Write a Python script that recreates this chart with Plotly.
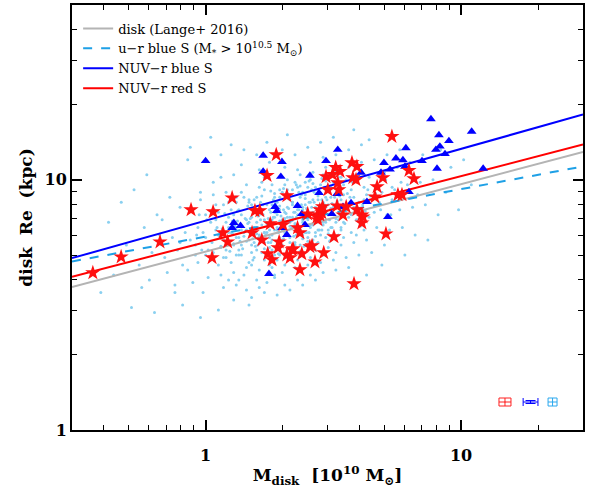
import numpy as np
import plotly.graph_objects as go

# ---- data ----
# fitted size-mass relations: log Re = a + b * log M
fit_names = ["disk (Lange+ 2016)",
             "u\u2212r blue S (M<sub>*</sub> > 10<sup>10.5</sup> M<sub>\u2299</sub>)",
             "NUV\u2212r blue S",
             "NUV\u2212r red S"]
fit_a = [0.713, 0.773, 0.837, 0.751]
fit_b = [0.270, 0.190, 0.287, 0.264]

# NUV-r red S (stars)
star_mass = [0.362, 0.467, 0.663, 0.877, 1.07, 1.06, 1.27, 1.17, 1.22, 1.52,
             1.56, 1.63, 1.66, 1.74, 1.89, 1.79, 1.94, 1.92, 2.01, 2.08,
             1.75, 1.82, 2.08, 2.18, 2.14, 2.20, 2.34, 2.38, 2.56, 2.61,
             2.68, 2.90, 3.18, 2.29, 2.34, 2.51, 2.73, 2.80, 2.75, 2.85,
             2.80, 2.87, 3.27, 3.45, 3.01, 2.96, 3.14, 3.23, 3.36, 3.29,
             3.32, 3.74, 3.91, 3.77, 3.88, 3.55, 3.91, 4.09, 4.13, 4.09,
             4.60, 4.69, 4.94, 5.36, 5.66, 5.87, 5.08, 3.81, 6.25, 6.54]
star_re = [4.25, 4.92, 5.65, 7.59, 7.45, 4.88, 8.47, 6.14, 5.65, 6.14,
           7.52, 7.52, 5.75, 10.4, 12.6, 6.67, 5.65, 5.35, 6.61, 8.63,
           5.06, 4.79, 5.01, 5.25, 4.88, 5.30, 4.37, 5.06, 5.40, 5.45,
           4.70, 5.11, 5.92, 6.43, 6.14, 7.31, 7.11, 7.24, 6.92, 7.38,
           7.59, 7.80, 7.87, 7.24, 9.12, 10.3, 10.5, 11.2, 10.8, 9.73,
           9.12, 11.7, 11.3, 10.2, 10.0, 7.80, 7.59, 7.24, 7.11, 6.73,
           8.55, 9.38, 10.2, 14.9, 8.71, 8.71, 6.08, 3.84, 10.9, 10.1]

# NUV-r blue S (triangles)
tri_mass = [1.00, 1.29, 1.27, 1.37, 1.68, 1.99, 1.68, 1.97, 3.29, 2.96,
            2.56, 4.06, 4.99, 5.56, 4.86, 5.27, 2.78, 3.27, 2.29, 1.87,
            1.90, 2.38, 3.12, 3.45, 3.71, 4.28, 5.17, 2.45, 1.99, 2.08,
            1.77, 7.62, 8.19, 11.0, 8.96, 8.26, 7.97, 6.08, 5.92, 7.03,
            8.65, 6.03, 8.05, 12.2, 6.25]
tri_re = [11.9, 6.73, 6.43, 6.55, 12.5, 11.8, 10.8, 10.3, 13.2, 11.9,
          10.4, 10.7, 11.7, 12.2, 10.7, 11.0, 8.87, 8.79, 7.87, 7.80,
          7.52, 7.31, 7.31, 7.80, 8.09, 8.17, 7.11, 6.61, 6.43, 6.03,
          4.21, 17.5, 15.1, 15.6, 14.3, 13.6, 13.2, 13.4, 12.0, 11.9,
          12.7, 11.3, 11.1, 11.1, 8.95]

# full disk sample (small dots): (log10 M, log10 Re)
cloud_log = [
    (-0.41, 0.55), (-0.38, 0.83), (-0.36, 0.62), (-0.33, 0.91),
    (-0.31, 0.74), (-0.29, 0.49), (-0.28, 0.96),
    (-0.26, 0.66), (-0.24, 0.81), (-0.25, 0.57), (-0.23, 1.02),
    (-0.21, 0.71), (-0.19, 0.86), (-0.22, 0.60), (-0.18, 0.78), (-0.20, 0.47),
    (-0.16, 0.69), (-0.14, 0.93), (-0.15, 0.63), (-0.13, 0.77), (-0.17, 0.84), (-0.12, 0.55),
    (-0.11, 0.72), (-0.09, 0.66), (-0.10, 0.89), (-0.08, 0.79), (-0.12, 0.58), (-0.07, 1.08),
    (-0.10, 0.75), (-0.09, 0.50),
    (-0.06, 0.76), (-0.04, 0.70), (-0.05, 0.88), (-0.03, 0.81), (-0.07, 0.64), (-0.02, 0.95),
    (-0.05, 0.59), (-0.04, 0.74), (-0.06, 1.13), (-0.03, 0.67),
    (-0.01, 0.79), (0.01, 0.72), (0.00, 0.86), (0.02, 0.68), (-0.02, 0.92), (0.01, 0.61),
    (0.00, 0.77), (0.02, 0.83), (-0.01, 0.55), (0.03, 0.99), (0.00, 0.70), (-0.02, 0.45),
    (0.02, 1.17),
    (0.04, 0.80), (0.06, 0.73), (0.05, 0.87), (0.07, 0.69), (0.03, 0.94), (0.06, 0.62),
    (0.05, 0.78), (0.04, 0.84), (0.07, 0.57), (0.06, 1.01), (0.03, 0.71), (0.05, 0.66),
    (0.04, 0.90), (0.07, 0.76), (0.05, 0.48), (0.06, 1.10),
    (0.09, 0.81), (0.11, 0.74), (0.10, 0.88), (0.12, 0.70), (0.08, 0.95), (0.11, 0.63),
    (0.10, 0.79), (0.09, 0.85), (0.12, 0.58), (0.11, 1.02), (0.08, 0.72), (0.10, 0.67),
    (0.09, 0.91), (0.12, 0.77), (0.11, 0.52), (0.10, 1.14), (0.08, 0.83), (0.12, 0.93),
    (0.09, 0.60), (0.11, 0.86),
    (0.13, 0.77), (0.16, 0.84), (0.14, 0.70), (0.17, 0.91), (0.15, 0.62), (0.12, 0.81),
    (0.16, 0.98), (0.14, 0.74), (0.17, 0.67), (0.13, 0.88), (0.15, 0.79), (0.16, 0.56),
    (0.14, 1.06), (0.17, 0.83), (0.13, 0.72), (0.15, 0.93), (0.16, 0.65), (0.14, 0.86),
    (0.17, 0.76), (0.13, 0.60), (0.15, 1.12), (0.16, 0.80), (0.14, 0.95), (0.17, 0.50),
    (0.18, 0.85), (0.21, 0.78), (0.19, 0.92), (0.22, 0.71), (0.20, 0.83), (0.18, 0.66),
    (0.21, 0.97), (0.19, 0.75), (0.22, 0.88), (0.20, 0.60), (0.18, 0.80), (0.21, 1.04),
    (0.19, 0.69), (0.22, 0.82), (0.20, 0.93), (0.18, 0.74), (0.21, 0.57), (0.19, 0.87),
    (0.22, 0.77), (0.20, 1.10), (0.18, 0.90), (0.21, 0.64), (0.19, 0.81), (0.22, 0.99),
    (0.20, 0.72), (0.18, 0.53), (0.21, 0.86), (0.23, 0.79),
    (0.23, 0.84), (0.26, 0.76), (0.24, 0.90), (0.27, 0.70), (0.25, 0.82), (0.23, 0.96),
    (0.26, 0.65), (0.24, 0.79), (0.27, 0.87), (0.25, 0.73), (0.23, 1.01), (0.26, 0.84),
    (0.24, 0.59), (0.27, 0.93), (0.25, 0.77), (0.23, 0.68), (0.26, 0.90), (0.24, 0.83),
    (0.27, 0.62), (0.25, 1.07), (0.23, 0.75), (0.26, 0.98), (0.24, 0.71), (0.27, 0.80),
    (0.25, 0.88), (0.23, 0.55), (0.26, 0.72), (0.24, 1.15), (0.27, 0.85), (0.25, 0.66),
    (0.28, 0.86), (0.31, 0.79), (0.29, 0.93), (0.32, 0.72), (0.30, 0.84), (0.28, 0.68),
    (0.31, 0.98), (0.29, 0.77), (0.32, 0.89), (0.30, 0.63), (0.28, 0.81), (0.31, 1.05),
    (0.29, 0.70), (0.32, 0.85), (0.30, 0.95), (0.28, 0.75), (0.31, 0.58), (0.29, 0.88),
    (0.32, 0.78), (0.30, 1.12), (0.28, 0.91), (0.31, 0.66), (0.29, 0.83), (0.32, 1.00),
    (0.30, 0.74), (0.28, 0.54), (0.31, 0.87), (0.29, 0.96), (0.32, 0.69), (0.30, 0.80),
    (0.33, 0.92), (0.27, 0.61),
    (0.33, 0.85), (0.36, 0.78), (0.34, 0.91), (0.37, 0.74), (0.35, 0.87), (0.33, 0.69),
    (0.36, 0.97), (0.34, 0.81), (0.37, 0.93), (0.35, 0.65), (0.33, 0.83), (0.36, 1.04),
    (0.34, 0.72), (0.37, 0.86), (0.35, 0.99), (0.33, 0.77), (0.36, 0.60), (0.34, 0.90),
    (0.37, 0.80), (0.35, 1.10), (0.33, 0.94), (0.36, 0.68), (0.34, 0.84), (0.37, 1.02),
    (0.35, 0.75), (0.33, 0.56), (0.36, 0.88), (0.34, 0.96), (0.37, 0.70), (0.35, 0.82),
    (0.38, 0.89), (0.32, 1.18),
    (0.38, 0.88), (0.41, 0.81), (0.39, 0.94), (0.42, 0.76), (0.40, 0.86), (0.38, 0.71),
    (0.41, 1.00), (0.39, 0.79), (0.42, 0.92), (0.40, 0.66), (0.38, 0.84), (0.41, 1.07),
    (0.39, 0.74), (0.42, 0.87), (0.40, 0.97), (0.38, 0.78), (0.41, 0.62), (0.39, 0.90),
    (0.42, 0.82), (0.40, 1.13), (0.38, 0.95), (0.41, 0.69), (0.39, 0.85), (0.42, 1.03),
    (0.40, 0.77), (0.38, 0.58), (0.41, 0.91), (0.39, 0.99), (0.42, 0.73), (0.43, 0.85),
    (0.43, 0.89), (0.46, 0.82), (0.44, 0.96), (0.47, 0.77), (0.45, 0.88), (0.43, 0.72),
    (0.46, 1.02), (0.44, 0.80), (0.47, 0.93), (0.45, 0.67), (0.43, 0.85), (0.46, 1.09),
    (0.44, 0.75), (0.47, 0.89), (0.45, 0.98), (0.43, 0.79), (0.46, 0.63), (0.44, 0.92),
    (0.47, 0.83), (0.45, 1.15), (0.43, 0.97), (0.46, 0.70), (0.44, 0.87), (0.47, 1.05),
    (0.45, 0.78), (0.43, 0.60), (0.46, 0.91), (0.48, 0.86),
    (0.48, 0.90), (0.51, 0.83), (0.49, 0.97), (0.52, 0.78), (0.50, 0.89), (0.48, 0.73),
    (0.51, 1.03), (0.49, 0.81), (0.52, 0.94), (0.50, 0.68), (0.48, 0.86), (0.51, 1.10),
    (0.49, 0.76), (0.52, 0.90), (0.50, 0.99), (0.48, 0.80), (0.51, 0.64), (0.49, 0.93),
    (0.52, 0.84), (0.50, 1.17), (0.48, 0.96), (0.51, 0.71), (0.49, 0.88), (0.53, 1.01),
    (0.53, 0.92), (0.56, 0.85), (0.54, 0.98), (0.57, 0.79), (0.55, 0.90), (0.53, 0.74),
    (0.56, 1.05), (0.54, 0.83), (0.57, 0.96), (0.55, 0.69), (0.53, 0.88), (0.56, 1.12),
    (0.54, 0.77), (0.57, 0.91), (0.55, 1.00), (0.53, 0.81), (0.56, 0.65), (0.54, 0.94),
    (0.57, 0.86), (0.58, 1.20),
    (0.58, 0.93), (0.61, 0.86), (0.59, 1.00), (0.62, 0.80), (0.60, 0.91), (0.58, 0.75),
    (0.61, 1.07), (0.59, 0.84), (0.62, 0.97), (0.60, 0.70), (0.58, 0.89), (0.61, 1.14),
    (0.59, 0.78), (0.62, 0.92), (0.60, 1.02), (0.63, 0.62),
    (0.63, 0.94), (0.66, 0.87), (0.64, 1.01), (0.67, 0.81), (0.65, 0.92), (0.63, 0.76),
    (0.66, 1.08), (0.64, 0.85), (0.67, 0.98), (0.65, 0.71), (0.68, 0.90), (0.64, 1.16),
    (0.69, 0.95), (0.71, 0.86), (0.70, 1.03), (0.72, 0.80), (0.68, 0.91), (0.71, 1.10),
    (0.70, 0.74), (0.73, 0.97), (0.69, 0.66),
    (0.74, 0.96), (0.76, 0.88), (0.75, 1.05), (0.77, 0.81), (0.73, 0.92), (0.76, 1.12),
    (0.78, 0.70),
    (0.79, 0.98), (0.81, 0.89), (0.80, 1.07), (0.82, 0.78), (0.83, 0.94),
    (0.84, 0.99), (0.86, 0.90), (0.85, 1.10), (0.87, 0.76),
    (0.89, 1.00), (0.91, 0.86), (0.92, 1.12),
    (0.94, 0.95), (0.96, 1.05), (0.99, 0.88), (1.01, 1.08), (1.04, 0.98),
    # dense core
    (0.065, 0.805), (0.085, 0.745), (0.075, 0.865), (0.095, 0.715), (0.055, 0.775),
    (0.105, 0.835), (0.08, 0.69), (0.07, 0.90), (0.09, 0.79), (0.06, 0.735),
    (0.115, 0.815), (0.135, 0.755), (0.125, 0.875), (0.145, 0.725), (0.105, 0.785),
    (0.155, 0.845), (0.13, 0.70), (0.12, 0.91), (0.14, 0.80), (0.11, 0.745),
    (0.15, 0.775), (0.125, 0.835),
    (0.165, 0.825), (0.185, 0.765), (0.175, 0.885), (0.195, 0.735), (0.155, 0.795),
    (0.205, 0.855), (0.18, 0.71), (0.17, 0.92), (0.19, 0.81), (0.16, 0.755),
    (0.20, 0.785), (0.175, 0.845), (0.185, 0.68), (0.165, 0.895),
    (0.215, 0.84), (0.235, 0.78), (0.225, 0.90), (0.245, 0.75), (0.205, 0.81),
    (0.255, 0.87), (0.23, 0.725), (0.22, 0.935), (0.24, 0.825), (0.21, 0.77),
    (0.25, 0.80), (0.225, 0.86), (0.235, 0.695), (0.215, 0.91), (0.245, 0.845),
    (0.205, 0.74), (0.255, 0.955), (0.23, 0.79),
    (0.265, 0.85), (0.285, 0.79), (0.275, 0.91), (0.295, 0.76), (0.255, 0.82),
    (0.305, 0.88), (0.28, 0.735), (0.27, 0.945), (0.29, 0.835), (0.26, 0.78),
    (0.30, 0.81), (0.275, 0.87), (0.285, 0.705), (0.265, 0.92), (0.295, 0.855),
    (0.255, 0.75), (0.305, 0.965), (0.28, 0.80), (0.27, 0.685), (0.29, 0.895),
    (0.315, 0.865), (0.335, 0.805), (0.325, 0.925), (0.345, 0.775), (0.305, 0.835),
    (0.355, 0.895), (0.33, 0.75), (0.32, 0.96), (0.34, 0.85), (0.31, 0.795),
    (0.35, 0.825), (0.325, 0.885), (0.335, 0.72), (0.315, 0.935), (0.345, 0.87),
    (0.305, 0.765), (0.355, 0.98), (0.33, 0.815), (0.32, 0.70), (0.34, 0.91),
    (0.31, 0.845), (0.35, 0.74),
    (0.365, 0.88), (0.385, 0.82), (0.375, 0.94), (0.395, 0.79), (0.355, 0.85),
    (0.405, 0.91), (0.38, 0.765), (0.37, 0.975), (0.39, 0.865), (0.36, 0.81),
    (0.40, 0.84), (0.375, 0.90), (0.385, 0.735), (0.365, 0.95), (0.395, 0.885),
    (0.355, 0.78), (0.405, 0.995), (0.38, 0.83), (0.37, 0.715), (0.39, 0.925),
    (0.36, 0.86), (0.40, 0.755),
    (0.415, 0.89), (0.435, 0.83), (0.425, 0.95), (0.445, 0.80), (0.405, 0.86),
    (0.455, 0.92), (0.43, 0.775), (0.42, 0.985), (0.44, 0.875), (0.41, 0.82),
    (0.45, 0.85), (0.425, 0.91), (0.435, 0.745), (0.415, 0.96), (0.445, 0.895),
    (0.405, 0.79), (0.455, 1.005), (0.43, 0.84), (0.42, 0.725), (0.44, 0.935),
    (0.465, 0.90), (0.485, 0.84), (0.475, 0.96), (0.495, 0.81), (0.455, 0.87),
    (0.505, 0.93), (0.48, 0.785), (0.47, 0.995), (0.49, 0.885), (0.46, 0.83),
    (0.50, 0.86), (0.475, 0.92), (0.485, 0.755), (0.465, 0.97), (0.495, 0.905),
    (0.455, 0.80),
    (0.515, 0.915), (0.535, 0.855), (0.525, 0.975), (0.545, 0.825), (0.505, 0.885),
    (0.555, 0.945), (0.53, 0.80), (0.52, 1.01), (0.54, 0.90), (0.51, 0.845),
    (0.55, 0.875), (0.525, 0.935),
    (0.565, 0.93), (0.585, 0.87), (0.575, 0.99), (0.595, 0.84), (0.615, 0.90),
    (0.635, 0.96), (0.605, 0.815), (0.625, 0.875), (0.645, 0.935), (0.59, 1.02),
    (0.665, 0.945), (0.685, 0.88), (0.705, 1.00), (0.725, 0.86), (0.745, 0.93),
    (0.765, 0.99),
    (-0.035, 0.78), (-0.015, 0.72), (0.005, 0.84), (0.025, 0.75), (0.045, 0.81),
    (-0.025, 0.86), (0.015, 0.695), (0.035, 0.88),
]

# typical uncertainties (dex) shown in the lower right corner
err_mass = [14.85, 18.7, 22.8]
err_re = [1.294, 1.294, 1.294]
err_dex_mass = [0.0235, 0.029, 0.0176]
err_dex_re = [0.016, 0.006, 0.016]

# ---- figure ----
fit_colors = ["#b4b4b4", "#1ea0e6", "#0000ff", "#ff0000"]
fit_dash = ["solid", "dash", "solid", "solid"]
err_colors = ["#ff2020", "#0000ff", "#2aa8ee"]
err_capx = [4, 4, 4]
err_capy = [6, 5, 4.5]

fig = go.Figure()

cl_m = [10 ** p[0] for p in cloud_log]
cl_r = [10 ** p[1] for p in cloud_log]
fig.add_trace(go.Scatter(x=cl_m, y=cl_r, mode="markers", showlegend=False,
                         marker=dict(size=3, color="#8ad0f0"), hoverinfo="skip"))

xl = np.logspace(np.log10(0.3), np.log10(30), 50)
for name, a, b, c, d in zip(fit_names, fit_a, fit_b, fit_colors, fit_dash):
    fig.add_trace(go.Scatter(x=xl, y=10 ** (a + b * np.log10(xl)), mode="lines",
                             name=name, line=dict(color=c, width=2, dash=d)))

fig.add_trace(go.Scatter(x=tri_mass, y=tri_re, mode="markers", showlegend=False,
                         marker=dict(symbol="triangle-up", size=8.5, color="#0000ff")))
fig.add_trace(go.Scatter(x=star_mass, y=star_re, mode="markers", showlegend=False,
                         marker=dict(symbol="star", size=11.5, color="#ff1010")))

for m, r, dm, dr, c, cx, cy in zip(err_mass, err_re, err_dex_mass, err_dex_re,
                                   err_colors, err_capx, err_capy):
    fig.add_trace(go.Scatter(
        x=[m], y=[r], mode="markers", showlegend=False,
        marker=dict(size=1, color=c),
        error_x=dict(type="data", symmetric=False, array=[m * (10 ** dm - 1)],
                     arrayminus=[m * (1 - 10 ** -dm)], color=c, thickness=1, width=cx),
        error_y=dict(type="data", symmetric=False, array=[r * (10 ** dr - 1)],
                     arrayminus=[r * (1 - 10 ** -dr)], color=c, thickness=1, width=cy),
    ))

axis_style = dict(
    type="log", showgrid=False, zeroline=False, automargin=False,
    showline=True, linecolor="black", linewidth=2, mirror="allticks",
    ticks="inside", ticklen=10, tickwidth=1.5, tickcolor="black",
    tickvals=[1, 10], ticktext=["1", "10"],
    tickfont=dict(family="DejaVu Serif", size=16, color="black", weight="bold"),
    minor=dict(ticks="inside", ticklen=5, tickwidth=1, tickcolor="black", dtick="D1"),
)

fig.update_layout(
    width=593, height=492,
    margin=dict(l=72, r=10, t=5, b=62),
    paper_bgcolor="white", plot_bgcolor="white",
    font=dict(family="DejaVu Serif", color="black"),
    xaxis=dict(axis_style, range=[np.log10(0.3), np.log10(30)], ticklabelstandoff=10,
               title=dict(text="M<sub>disk</sub>  [10<sup>10</sup> M<sub>\u2299</sub>]",
                          font=dict(size=17, weight="bold"), standoff=5)),
    yaxis=dict(axis_style, range=[0, np.log10(50)], ticklabelstandoff=0,
               title=dict(text="disk  Re  (kpc)", font=dict(size=17, weight="bold"),
                          standoff=8)),
    legend=dict(x=0.012, y=0.98, xanchor="left", yanchor="top",
                bgcolor="rgba(0,0,0,0)", itemwidth=30,
                font=dict(family="DejaVu Serif", size=13, color="black")),
)

# the page's default body margin would shift the figure off the window
fig.write_html("out.html", config={"displayModeBar": False},
               post_script="document.body.style.margin='0';")
